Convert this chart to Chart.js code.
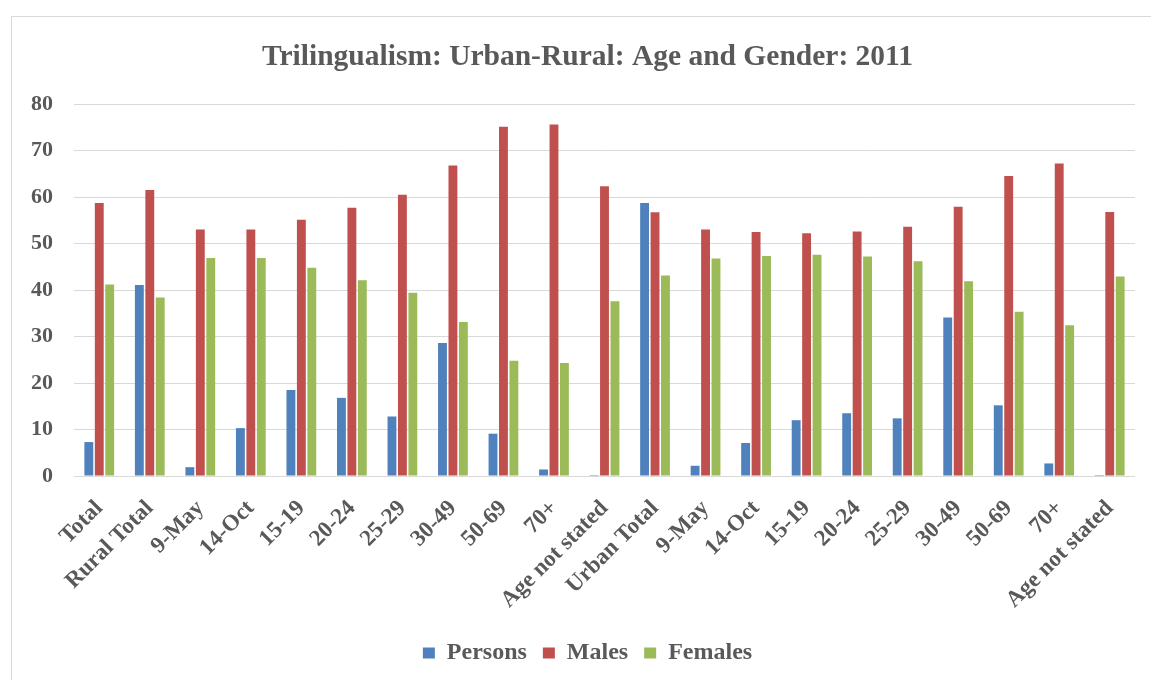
<!DOCTYPE html>
<html>
<head>
<meta charset="utf-8">
<script src="https://cdn.jsdelivr.net/npm/chart.js@4/dist/chart.umd.min.js"></script>
<style>
  html, body { margin: 0; padding: 0; background: #fff; overflow: hidden; }
  body { width: 1151px; height: 680px; position: relative; }
  .frame {
    position: absolute; left: 11px; top: 16px;
    border-left: 1px solid #d9d9d9; border-top: 1px solid #d9d9d9;
  }
  .plot { position: relative; width: 1151px; height: 663px; }
</style>
</head>
<body>
<div class="frame"><div class="plot"><canvas id="chart"></canvas></div></div>
<script>
// Trilingualism by urban/rural, age group and gender, 2011 (percent)
const categories = ['Total', 'Rural Total', '9-May', '14-Oct', '15-19', '20-24', '25-29', '30-49', '50-69', '70+', 'Age not stated',
                    'Urban Total', '9-May', '14-Oct', '15-19', '20-24', '25-29', '30-49', '50-69', '70+', 'Age not stated'];
const persons = [7.3, 41.1, 1.9, 10.3, 18.5, 16.8, 12.8, 28.6, 9.1, 1.4, 0.2,
                 58.7, 2.2, 7.1, 12.0, 13.5, 12.4, 34.1, 15.2, 2.7, 0.2];
const males   = [58.7, 61.5, 53.0, 53.0, 55.1, 57.7, 60.5, 66.8, 75.1, 75.6, 62.3,
                 56.7, 53.0, 52.5, 52.2, 52.6, 53.6, 57.9, 64.5, 67.2, 56.8];
const females = [41.2, 38.4, 46.9, 46.9, 44.8, 42.1, 39.4, 33.1, 24.8, 24.3, 37.6,
                 43.1, 46.8, 47.3, 47.6, 47.2, 46.2, 41.9, 35.3, 32.4, 42.9];
const yTicks = [0, 10, 20, 30, 40, 50, 60, 70, 80];

const textColor = '#595959';
const serif = '"Liberation Serif", "Times New Roman", serif';

function series(label, data, color) {
    return {
        label, data,
        backgroundColor: color,
        borderWidth: 0,
        categoryPercentage: 0.62,
        barPercentage: 0.85
    };
}

new Chart(document.getElementById('chart'), {
    type: 'bar',
    data: {
        labels: categories,
        datasets: [
            series('Persons', persons, '#4f81bd'),
            series('Males', males, '#c0504d'),
            series('Females', females, '#9bbb59')
        ]
    },
    options: {
        responsive: true,
        maintainAspectRatio: false,
        animation: false,
        layout: { padding: { left: 0, right: 0, top: 0, bottom: 5 } },
        plugins: {
            title: {
                display: true,
                text: 'Trilingualism: Urban-Rural: Age and Gender: 2011',
                color: textColor,
                font: { family: serif, size: 29.5, weight: 'bold' },
                padding: { top: 22.3, bottom: 29.3 }
            },
            legend: {
                position: 'bottom',
                labels: {
                    color: textColor,
                    font: { family: serif, size: 24, weight: 'bold' },
                    boxWidth: 12,
                    boxHeight: 11,
                    padding: 16
                }
            },
            tooltip: { enabled: false }
        },
        scales: {
            x: {
                grid: { display: false },
                border: { display: false },
                ticks: {
                    color: textColor,
                    font: { family: serif, size: 23, weight: 'bold' },
                    autoSkip: false,
                    minRotation: 45,
                    maxRotation: 45,
                    padding: 11
                },
                afterFit(scale) { scale.height = 149; }
            },
            y: {
                min: 0,
                max: 80,
                afterBuildTicks(scale) { scale.ticks = yTicks.map(v => ({ value: v })); },
                grid: { color: '#d9d9d9', lineWidth: 1, drawTicks: false },
                border: { display: false },
                ticks: {
                    color: textColor,
                    font: { family: serif, size: 22, weight: 'bold' },
                    padding: 21
                },
                afterFit(scale) { scale.width = 62; }
            },
            // empty right-hand margin so the plot ends short of the frame edge
            // while title and legend stay centred on the full width
            gutter: {
                type: 'linear',
                position: 'right',
                display: true,
                grid: { display: false },
                border: { display: false },
                ticks: { display: false },
                afterFit(scale) { scale.width = 28; }
            }
        }
    }
});
</script>
</body>
</html>
